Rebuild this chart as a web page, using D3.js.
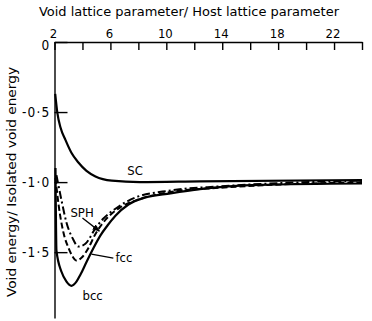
<!DOCTYPE html>
<html><head><meta charset="utf-8">
<script src="https://cdn.jsdelivr.net/npm/d3@7"></script>
<style>
html,body{margin:0;padding:0;background:#fff;}
text{font-family:"DejaVu Sans Condensed","Liberation Sans Narrow","DejaVu Sans",sans-serif;fill:#000;}
</style></head>
<body><svg id="c" width="372" height="321"></svg>
<script>
// data (x: void/host lattice parameter ratio, y: void energy / isolated void energy)
const scX = [2.05,2.21,2.43,2.79,3.21,3.71,4.29,4.93,6.1,8.1,12.4,24];
const scY = [-0.37,-0.51,-0.61,-0.70,-0.79,-0.86,-0.92,-0.96,-0.99,-1.0,-0.995,-0.985];
const bccX = [2.07,2.14,2.5,2.86,3.21,3.57,3.86,4.29,4.79,5.29,5.79,6.36,7.29,8.5,10.3,12.4,16.7,24];
const bccY = [-0.90,-1.49,-1.64,-1.71,-1.74,-1.71,-1.66,-1.57,-1.47,-1.38,-1.31,-1.24,-1.16,-1.11,-1.08,-1.05,-1.02,-1.01];
const fccX = [2.07,2.29,2.64,3.0,3.29,3.57,3.93,4.43,4.93,5.64,6.71,8.14,10.3,13.9,24];
const fccY = [-0.97,-1.16,-1.36,-1.47,-1.53,-1.56,-1.54,-1.47,-1.37,-1.27,-1.18,-1.12,-1.07,-1.04,-1.0];
const sphX = [2.14,2.5,2.86,3.29,3.71,4.21,4.93,5.5,6.36,7.79,10.3,13.9,24];
const sphY = [-0.95,-1.13,-1.29,-1.40,-1.46,-1.44,-1.33,-1.26,-1.19,-1.11,-1.06,-1.03,-0.99];
const xTicks = [2,4,6,8,10,12,14,16,18,20,22,24];
const xTickLabels = ["2","","6","","10","","14","","18","","22",""];
const yTicks = [0,-0.5,-1.0,-1.5];
const yTickLabels = ["0","-0·5","-1·0","-1·5"];
const xTitle = "Void lattice parameter/ Host lattice parameter";
const yTitle = "Void energy/ Isolated void energy";

const svg = d3.select("#c");
const x = d3.scaleLinear().domain([2,24]).range([54.5,362]);
const y = d3.scaleLinear().domain([0,-1.97]).range([42,318]);

// x axis (top)
const gx = svg.append("g").attr("transform","translate(0,42)")
  .call(d3.axisTop(x).tickValues(xTicks).tickSize(-8).tickSizeOuter(0).tickPadding(4)
    .tickFormat((d,i)=>xTickLabels[i]));
gx.select(".domain").attr("stroke","#000").attr("stroke-width",1.6);
gx.selectAll(".tick line").attr("stroke","#000").attr("stroke-width",1.4);
gx.selectAll(".tick text").attr("font-size",13).attr("dx",-1.5).style("font-family",null);

// y axis (left)
const gy = svg.append("g").attr("transform","translate(54.5,0)")
  .call(d3.axisLeft(y).tickValues(yTicks).tickSize(-13).tickSizeOuter(0).tickPadding(4)
    .tickFormat((d,i)=>yTickLabels[i]));
gy.select(".domain").attr("stroke","#000").attr("stroke-width",1.4);
gy.selectAll(".tick line").attr("stroke","#000").attr("stroke-width",1.4);
gy.selectAll(".tick text").attr("font-size",13.5).attr("letter-spacing",1.2).style("font-family",null);
gy.selectAll(".tick").filter(d=>d===0).select("text").attr("dy","0.55em");

// titles
svg.append("text").attr("x",189).attr("y",16).attr("text-anchor","middle")
  .attr("font-size",12.5).attr("textLength",300).attr("lengthAdjust","spacingAndGlyphs").text(xTitle);
svg.append("text").attr("transform","translate(16,182) rotate(-90)").attr("text-anchor","middle")
  .attr("font-size",13).attr("textLength",230).attr("lengthAdjust","spacingAndGlyphs").text(yTitle);

const line = d3.line().x(d=>x(d[0])).y(d=>y(d[1])).curve(d3.curveMonotoneX);
function draw(xs,ys,dash,w){
  svg.append("path").datum(xs.map((v,i)=>[v,ys[i]]))
    .attr("d",line).attr("fill","none").attr("stroke","#000")
    .attr("stroke-width",w).attr("stroke-dasharray",dash);
}
draw(scX,scY,null,2.2);
draw(bccX,bccY,null,2.2);
draw(fccX,fccY,"6,3",2);
draw(sphX,sphY,"8,3,2,3",2);

// annotations
const labels = [["SC",7.21,-0.95],["SPH",3.14,-1.25],["fcc",6.36,-1.571],["bcc",4.0,-1.843]];
svg.selectAll(".lbl").data(labels).enter().append("text").attr("class","lbl")
  .attr("x",d=>x(d[1])).attr("y",d=>y(d[2])).attr("font-size",13).text(d=>d[0]);

svg.append("defs").append("marker").attr("id","ah").attr("viewBox","0 0 10 10")
  .attr("refX",9).attr("refY",5).attr("markerWidth",6).attr("markerHeight",6).attr("orient","auto")
  .append("path").attr("d","M0,1 L10,5 L0,9 Z").attr("fill","#000");
const arrows = [[4.0,-1.257,5.21,-1.35,true],[4.64,-1.514,6.21,-1.543,false]];
arrows.forEach(a=>{
  const l = svg.append("line").attr("x1",x(a[0])).attr("y1",y(a[1])).attr("x2",x(a[2])).attr("y2",y(a[3]))
    .attr("stroke","#000").attr("stroke-width",1.3);
  if(a[4]) l.attr("marker-end","url(#ah)");
});
</script></body></html>
